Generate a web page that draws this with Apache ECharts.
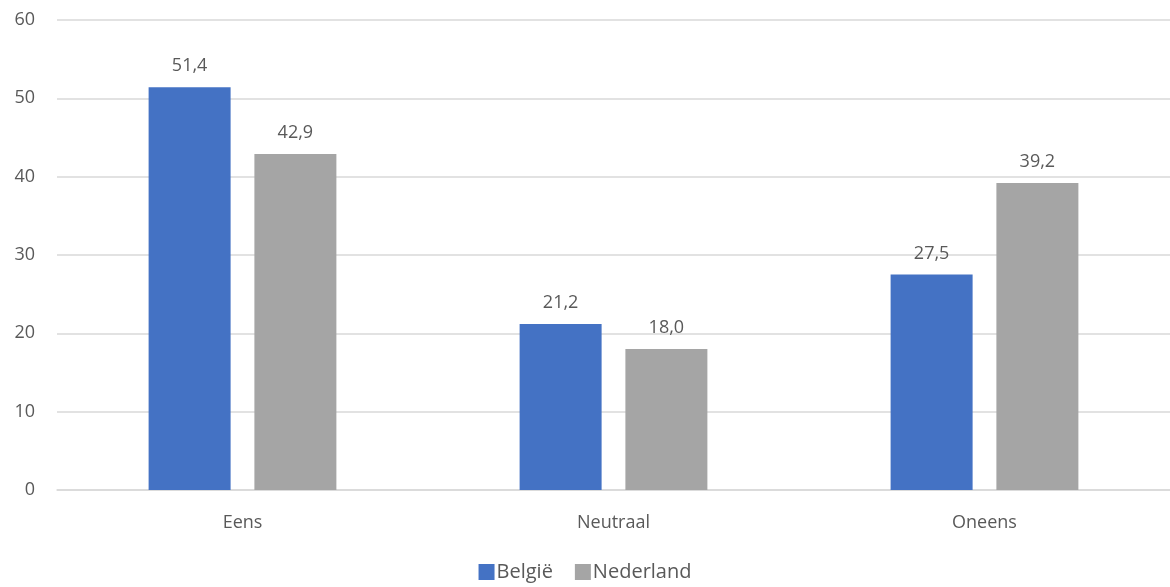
<!DOCTYPE html>
<html><head><meta charset="utf-8">
<style>html,body{margin:0;padding:0;background:#fff;}#c{width:1170px;height:587px;}</style>
<script src="https://cdn.jsdelivr.net/npm/echarts@6/dist/echarts.min.js"></script>
</head><body><div id="c"></div>
<script>
var categories = ['Eens', 'Neutraal', 'Oneens'];
var belgie = [51.4, 21.2, 27.5];
var nederland = [42.9, 18.0, 39.2];
var yTicks = [0, 10, 20, 30, 40, 50, 60];

var chart = echarts.init(document.getElementById('c'));
var font = 'Open Sans, Noto Sans, sans-serif';
var txt = '#595959';
function lbl(p){ return p.value.toFixed(1).replace('.', ','); }
chart.setOption({
  animation: false,
  textStyle: {fontFamily: font},
  grid: {left: 57, right: -4, top: 20, bottom: 97},
  legend: {
    bottom: 0, left: 'center', itemWidth: 16, itemHeight: 16, itemGap: 22,
    icon: 'rect',
    textStyle: {fontSize: 20, color: txt, fontFamily: font, padding: [0,0,0,-3]},
    data: ['België', 'Nederland']
  },
  xAxis: {
    type: 'category', data: categories,
    axisLine: {lineStyle: {color: '#D9D9D9', width: 1.5}},
    axisTick: {show: false},
    axisLabel: {fontSize: 18, color: txt, margin: 24, fontFamily: font}
  },
  yAxis: {
    type: 'value', min: 0, max: 60, interval: 10,
    axisLine: {show: false}, axisTick: {show: false},
    splitLine: {lineStyle: {color: '#D9D9D9', width: 1.5}},
    axisLabel: {fontSize: 18, color: txt, margin: 22, fontFamily: font,
      formatter: function(v){ return yTicks.indexOf(v) >= 0 ? String(v) : ''; }}
  },
  series: [
    {name: 'België', type: 'bar', data: belgie, barWidth: 82, barGap: '29%',
     itemStyle: {color: '#4472C4'},
     label: {show: true, position: 'top', distance: 12, fontSize: 18, color: txt, fontFamily: font, formatter: lbl}},
    {name: 'Nederland', type: 'bar', data: nederland, barWidth: 82,
     itemStyle: {color: '#A5A5A5'},
     label: {show: true, position: 'top', distance: 12, fontSize: 18, color: txt, fontFamily: font, formatter: lbl}}
  ]
});
</script></body></html>
